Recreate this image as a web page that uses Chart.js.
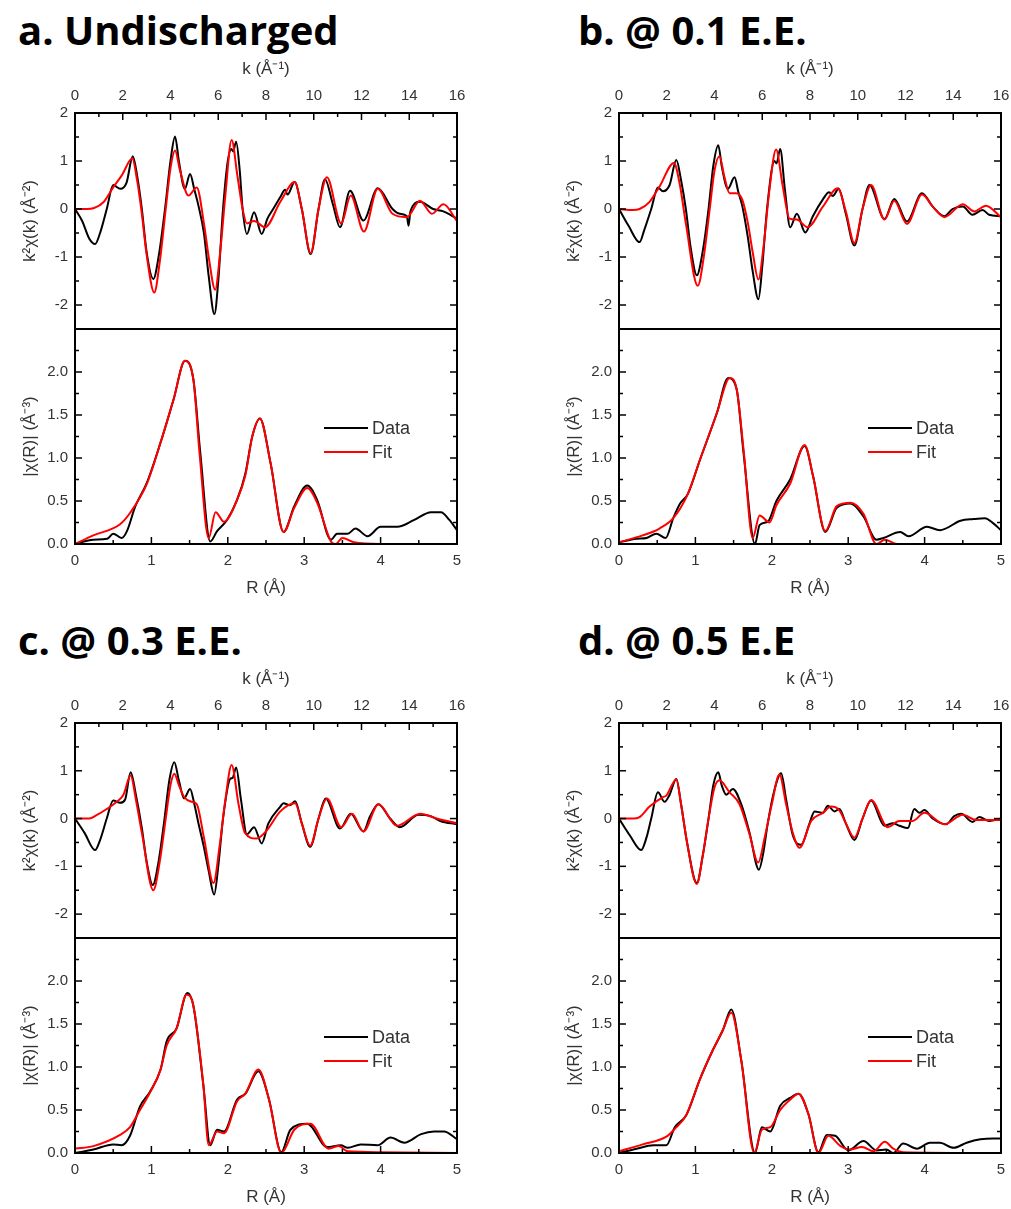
<!DOCTYPE html>
<html>
<head>
<meta charset="utf-8">
<script src="https://cdn.jsdelivr.net/npm/chart.js@4.4.1/dist/chart.umd.min.js"></script>
<style>
html, body { margin: 0; padding: 0; background: #fff; overflow: hidden; }
body { width: 1011px; height: 1209px; position: relative; }
.ttl { position: absolute; font: 700 40px "Open Sans", sans-serif; color: #000; line-height: 1; white-space: nowrap; }
canvas { position: absolute; }
</style>
</head>
<body>
<div class="ttl" style="left:18px;top:10px">a. Undischarged</div>
<div class="ttl" style="left:578px;top:10px">b. @ 0.1 E.E.</div>
<div class="ttl" style="left:18px;top:620px">c. @ 0.3 E.E.</div>
<div class="ttl" style="left:578px;top:620px">d. @ 0.5 E.E</div>
<script>
// axis ticks
const kTicks = [0, 2, 4, 6, 8, 10, 12, 14, 16];
const kMinor = [1, 3, 5, 7, 9, 11, 13, 15];
const chiKTicks = [2, 1, 0, -1, -2];
const chiKMinor = [1.5, 0.5, -0.5, -1.5];
const rTicks = [0, 1, 2, 3, 4, 5];
const rMinor = [0.5, 1.5, 2.5, 3.5, 4.5];
const chiRTicks = [0, 0.5, 1, 1.5, 2];
const chiRMinor = [0.25, 0.75, 1.25, 1.75, 2.25];

// k-space, [k, k^2 chi(k)]
const aKData = [[0,0],[0.3,-0.25],[0.6,-0.62],[0.84,-0.73],[1.05,-0.5],[1.33,0],[1.6,0.5],[1.9,0.42],[2.16,0.55],[2.42,1.1],[2.6,0.7],[2.8,0],[3.0,-0.9],[3.28,-1.46],[3.5,-1.0],[3.77,0],[4.0,1.0],[4.19,1.51],[4.35,1.0],[4.6,0.42],[4.82,0.73],[5.0,0.4],[5.17,0.07],[5.4,-0.5],[5.6,-1.4],[5.84,-2.19],[6.0,-1.5],[6.2,0],[6.4,1.0],[6.55,1.25],[6.62,1.2],[6.75,1.4],[6.9,0.8],[7.02,0],[7.2,-0.52],[7.5,-0.07],[7.82,-0.52],[8.06,-0.2],[8.3,0],[8.6,0.25],[8.8,0.4],[8.9,0.3],[9.2,0.56],[9.5,0],[9.87,-0.94],[10.2,0],[10.47,0.62],[10.8,0.1],[11.1,-0.38],[11.52,0.38],[12.08,-0.24],[12.68,0.43],[13.3,0],[13.6,-0.1],[13.9,-0.15],[13.97,-0.35],[14.05,-0.05],[14.45,0.15],[15.0,0.0],[15.43,-0.05],[16,-0.2]];
const aKFit = [[0,0],[0.5,0],[0.8,0.02],[1.19,0.14],[1.6,0.45],[1.96,0.7],[2.4,1.05],[2.6,0.6],[2.8,-0.1],[3.0,-0.95],[3.32,-1.74],[3.55,-1.1],[3.8,0],[4.0,0.85],[4.19,1.22],[4.4,0.8],[4.75,0.28],[5.1,0.45],[5.4,-0.3],[5.6,-1.0],[5.87,-1.68],[6.1,-0.8],[6.3,0.3],[6.56,1.44],[6.8,0.7],[7.02,0],[7.2,-0.3],[7.5,-0.25],[7.96,-0.38],[8.6,0.15],[9.2,0.56],[9.5,0],[9.87,-0.92],[10.2,0],[10.55,0.66],[11.15,-0.3],[11.55,0.28],[12.1,-0.47],[12.68,0.42],[13.3,-0.1],[13.9,-0.17],[14.45,0.17],[14.95,-0.1],[15.43,0.1],[16,-0.25]];
const bKData = [[0,0],[0.4,-0.35],[0.86,-0.69],[1.05,-0.45],[1.35,0],[1.63,0.45],[1.84,0.37],[2.12,0.5],[2.4,1.02],[2.6,0.6],[2.8,0],[3.0,-0.8],[3.26,-1.38],[3.5,-0.9],[3.75,0],[3.95,0.9],[4.16,1.33],[4.3,0.9],[4.56,0.42],[4.84,0.66],[5.0,0.35],[5.16,0.07],[5.4,-0.6],[5.6,-1.3],[5.84,-1.88],[6.0,-1.2],[6.2,0],[6.51,1.0],[6.6,0.95],[6.75,1.25],[6.95,0.4],[7.17,-0.38],[7.45,-0.1],[7.8,-0.49],[8.12,-0.15],[8.54,0.2],[8.8,0.35],[8.95,0.27],[9.2,0.42],[9.5,-0.1],[9.86,-0.76],[10.2,0],[10.49,0.5],[11.12,-0.21],[11.53,0.21],[12.06,-0.26],[12.69,0.33],[13.14,0.05],[13.63,-0.15],[13.97,0],[14.4,0.05],[14.8,-0.12],[15.23,-0.02],[15.5,-0.12],[16,-0.15]];
const bKFit = [[0,0],[0.58,-0.02],[0.86,0],[1.28,0.15],[1.7,0.47],[2.3,0.96],[2.55,0.5],[2.8,-0.3],[3.3,-1.6],[3.55,-1.0],[3.8,0],[4.0,0.8],[4.21,1.1],[4.4,0.7],[4.63,0.33],[4.9,0.33],[5.16,0.2],[5.4,-0.3],[5.6,-0.9],[5.84,-1.47],[6.05,-0.8],[6.3,0.4],[6.58,1.24],[6.85,0.5],[7.14,-0.2],[7.45,-0.22],[7.9,-0.38],[8.54,0.05],[9.16,0.43],[9.5,-0.05],[9.86,-0.71],[10.2,0],[10.56,0.5],[11.12,-0.22],[11.53,0.17],[12.06,-0.31],[12.69,0.3],[13.14,0.05],[13.63,-0.17],[14.4,0.1],[14.88,-0.05],[15.37,0.07],[16,-0.17]];
const cKData = [[0,0],[0.4,-0.3],[0.84,-0.66],[1.05,-0.45],[1.33,0],[1.6,0.38],[1.89,0.33],[2.1,0.4],[2.33,0.97],[2.55,0.5],[2.8,-0.2],[3.0,-0.9],[3.26,-1.39],[3.5,-0.9],[3.75,0],[3.95,0.8],[4.16,1.18],[4.35,0.8],[4.57,0.42],[4.82,0.62],[5.0,0.3],[5.17,-0.1],[5.4,-0.6],[5.6,-1.1],[5.83,-1.59],[6.0,-1.0],[6.2,0],[6.5,0.83],[6.6,0.85],[6.75,1.07],[6.95,0.4],[7.2,-0.33],[7.5,-0.18],[7.82,-0.52],[8.1,-0.1],[8.6,0.25],[8.73,0.32],[9.0,0.28],[9.22,0.36],[9.5,-0.1],[9.85,-0.59],[10.2,0],[10.5,0.42],[11.1,-0.21],[11.55,0.1],[12.08,-0.27],[12.36,0.05],[12.71,0.3],[13.2,0],[13.6,-0.18],[14.39,0.08],[14.9,0.05],[15.3,-0.05],[16,-0.12]];
const cKFit = [[0,0],[0.6,0],[0.9,0.07],[1.33,0.2],[1.75,0.35],[2.03,0.5],[2.33,0.9],[2.55,0.4],[2.8,-0.3],[3.28,-1.5],[3.55,-0.9],[3.8,0],[4.0,0.7],[4.16,0.94],[4.35,0.7],[4.57,0.45],[4.89,0.35],[5.1,0.3],[5.4,-0.4],[5.8,-1.35],[6.05,-0.6],[6.3,0.4],[6.56,1.12],[6.85,0.3],[7.12,-0.3],[7.6,-0.42],[8.03,-0.25],[8.6,0.15],[9.22,0.32],[9.5,-0.1],[9.85,-0.57],[10.2,0],[10.55,0.42],[11.15,-0.18],[11.6,0.1],[12.08,-0.27],[12.71,0.3],[13.48,-0.15],[14.46,0.1],[15.15,0],[16,-0.1]];
const dKData = [[0,0],[0.45,-0.35],[0.93,-0.66],[1.15,-0.4],[1.35,0],[1.63,0.55],[1.91,0.35],[2.12,0.5],[2.4,0.83],[2.6,0.3],[2.85,-0.5],[3.26,-1.35],[3.5,-0.8],[3.75,0],[3.95,0.7],[4.16,0.97],[4.3,0.7],[4.49,0.5],[4.77,0.62],[5.12,0.3],[5.47,-0.3],[5.86,-1.07],[6.05,-0.7],[6.23,-0.1],[6.51,0.6],[6.79,0.95],[7.0,0.4],[7.28,-0.35],[7.63,-0.55],[7.98,-0.1],[8.19,0.15],[8.54,0.12],[8.75,0.27],[9.02,0.15],[9.23,0.2],[9.5,-0.1],[9.86,-0.45],[10.2,0],[10.56,0.38],[11.12,-0.15],[11.47,-0.1],[11.74,-0.15],[12.1,-0.2],[12.37,0.2],[12.58,0.12],[12.79,0.18],[13.14,0],[13.7,-0.12],[14.04,0.05],[14.33,0.1],[14.81,-0.07],[15.09,0.03],[15.51,-0.05],[16,0]];
const dKFit = [[0,0],[0.6,0],[0.86,0.03],[1.28,0.25],[1.84,0.45],[1.98,0.48],[2.4,0.82],[2.6,0.3],[2.85,-0.5],[3.26,-1.37],[3.5,-0.8],[3.75,0],[4.0,0.65],[4.21,0.8],[4.63,0.55],[5.05,0.3],[5.45,-0.3],[5.83,-0.92],[6.1,-0.4],[6.4,0.3],[6.72,0.92],[7.0,0.3],[7.28,-0.3],[7.56,-0.61],[8.05,-0.05],[8.54,0.12],[8.89,0.25],[9.23,0.17],[9.5,-0.1],[9.86,-0.4],[10.2,0],[10.56,0.39],[11.26,-0.18],[11.74,-0.05],[12.3,-0.05],[12.79,0.12],[13.63,-0.12],[14.4,0.08],[14.95,-0.03],[16,-0.03]];

// R-space, [R, |chi(R)|]
const aRData = [[0,0],[0.24,0.05],[0.42,0.06],[0.5,0.12],[0.61,0.07],[0.68,0.15],[0.79,0.44],[0.94,0.71],[1.12,1.18],[1.29,1.68],[1.44,2.13],[1.55,1.91],[1.64,1.06],[1.77,0.03],[1.86,0.15],[1.99,0.28],[2.12,0.51],[2.23,0.82],[2.32,1.25],[2.42,1.46],[2.56,0.94],[2.73,0.14],[2.87,0.44],[3.04,0.68],[3.17,0.51],[3.35,0.05],[3.43,0.12],[3.57,0.12],[3.67,0.18],[3.83,0.09],[4.0,0.2],[4.22,0.2],[4.44,0.28],[4.66,0.37],[4.79,0.37],[4.9,0.28],[5,0.16]];
const aRFit = [[0,0],[0.24,0.1],[0.59,0.23],[0.72,0.36],[0.94,0.7],[1.12,1.18],[1.29,1.68],[1.44,2.13],[1.55,1.91],[1.63,1.06],[1.75,0.07],[1.84,0.37],[1.95,0.26],[2.12,0.51],[2.23,0.8],[2.32,1.25],[2.42,1.46],[2.56,0.94],[2.73,0.14],[2.87,0.42],[3.04,0.65],[3.17,0.48],[3.35,0.03],[3.41,0],[3.5,0.07],[3.65,0.02],[4.0,0],[5,0]];
const bRData = [[0,0.02],[0.23,0.06],[0.36,0.07],[0.49,0.12],[0.61,0.07],[0.71,0.3],[0.8,0.47],[0.9,0.58],[1.06,0.98],[1.28,1.52],[1.43,1.93],[1.54,1.8],[1.63,1.06],[1.78,0],[1.84,0.22],[1.95,0.26],[2.06,0.5],[2.24,0.75],[2.43,1.14],[2.54,0.79],[2.7,0.14],[2.85,0.42],[3.03,0.47],[3.2,0.32],[3.37,0.05],[3.46,0.07],[3.68,0.14],[3.79,0.09],[4.03,0.2],[4.2,0.16],[4.47,0.27],[4.64,0.29],[4.79,0.3],[4.9,0.24],[5,0.16]];
const bRFit = [[0,0.02],[0.31,0.1],[0.53,0.18],[0.71,0.3],[0.9,0.58],[1.06,0.98],[1.28,1.52],[1.45,1.93],[1.54,1.8],[1.63,1.1],[1.75,0.07],[1.84,0.33],[1.97,0.25],[2.06,0.45],[2.24,0.7],[2.43,1.15],[2.54,0.79],[2.7,0.15],[2.85,0.44],[3.03,0.48],[3.2,0.35],[3.37,0],[3.48,0.05],[3.64,0],[5,0]];
const cRData = [[0,0],[0.24,0.04],[0.5,0.1],[0.61,0.09],[0.72,0.2],[0.85,0.54],[0.98,0.71],[1.12,0.97],[1.2,1.3],[1.33,1.45],[1.47,1.86],[1.55,1.71],[1.68,0.79],[1.77,0.09],[1.86,0.27],[1.95,0.25],[2.12,0.62],[2.23,0.69],[2.4,0.95],[2.54,0.62],[2.7,0.01],[2.82,0.27],[3.04,0.34],[3.3,0.07],[3.48,0.09],[3.57,0.06],[3.74,0.1],[3.96,0.09],[4.13,0.18],[4.31,0.12],[4.53,0.22],[4.7,0.25],[4.83,0.25],[5,0.16]];
const cRFit = [[0,0.05],[0.24,0.08],[0.59,0.21],[0.72,0.3],[0.85,0.5],[0.98,0.7],[1.12,0.97],[1.2,1.25],[1.33,1.45],[1.46,1.84],[1.55,1.71],[1.68,0.79],[1.75,0.09],[1.86,0.25],[1.95,0.23],[2.12,0.6],[2.23,0.69],[2.4,0.97],[2.54,0.62],[2.7,0],[2.87,0.27],[3.08,0.34],[3.32,0.05],[3.45,0.08],[3.57,0.02],[4.0,0.01],[5,0]];
const dRData = [[0,0],[0.23,0.05],[0.45,0.09],[0.62,0.09],[0.73,0.3],[0.88,0.44],[1.06,0.86],[1.23,1.2],[1.36,1.43],[1.47,1.67],[1.6,1.08],[1.78,0],[1.87,0.3],[1.98,0.25],[2.11,0.55],[2.24,0.64],[2.35,0.69],[2.48,0.45],[2.61,0.01],[2.72,0.21],[2.83,0.2],[3.0,0.03],[3.2,0.14],[3.37,0.03],[3.5,0.04],[3.59,0],[3.72,0.11],[3.9,0.05],[4.07,0.12],[4.2,0.12],[4.38,0.06],[4.55,0.12],[4.73,0.16],[4.9,0.17],[5,0.17]];
const dRFit = [[0,0.02],[0.31,0.1],[0.62,0.19],[0.73,0.28],[0.88,0.44],[1.06,0.86],[1.23,1.2],[1.36,1.43],[1.47,1.63],[1.6,1.08],[1.77,0],[1.87,0.27],[1.98,0.3],[2.11,0.5],[2.24,0.62],[2.35,0.69],[2.48,0.45],[2.61,0],[2.74,0.2],[2.9,0.08],[3.02,0.04],[3.18,0.07],[3.33,0.02],[3.48,0.13],[3.59,0.05],[3.72,0.01],[5,0]];

const TICK_FONT = { family: '"Liberation Sans", Arial, sans-serif', size: 15 };
const TITLE_FONT = { family: '"Liberation Sans", Arial, sans-serif', size: 17 };
const TEXT_COLOR = '#333';

// frame + inward ticks, Origin style
const framePlugin = {
  id: 'frame',
  afterDatasetsDraw(chart, args, o) {
    const { ctx, chartArea: a, scales } = chart;
    const xs = scales.x, ys = scales.y;
    ctx.save();
    ctx.strokeStyle = '#000';
    const line = (x1, y1, x2, y2) => { ctx.beginPath(); ctx.moveTo(x1, y1); ctx.lineTo(x2, y2); ctx.stroke(); };
    ctx.lineWidth = 1.5;
    const xEdgeY = o.xEdge === 'top' ? a.top : a.bottom;
    const dir = o.xEdge === 'top' ? 1 : -1;
    o.xMajor.forEach(v => { const p = xs.getPixelForValue(v); line(p, xEdgeY, p, xEdgeY + dir * 7); });
    o.xMinor.forEach(v => { const p = xs.getPixelForValue(v); line(p, xEdgeY, p, xEdgeY + dir * 4); });
    o.yMajor.forEach(v => {
      const p = ys.getPixelForValue(v);
      line(a.left, p, a.left + 7, p); line(a.right, p, a.right - 7, p);
    });
    o.yMinor.forEach(v => {
      const p = ys.getPixelForValue(v);
      line(a.left, p, a.left + 4, p); line(a.right, p, a.right - 4, p);
    });
    ctx.lineWidth = 2;
    ctx.strokeRect(a.left, a.top, a.right - a.left, a.bottom - a.top);
    ctx.restore();
  }
};

// legend inside the R plot
const legendPlugin = {
  id: 'inlegend',
  afterDraw(chart, args, o) {
    if (!o.show) return;
    const { ctx, chartArea: a } = chart;
    ctx.save();
    ctx.font = '18px "Liberation Sans", Arial, sans-serif';
    ctx.textBaseline = 'middle';
    ['Data', 'Fit'].forEach((name, i) => {
      const ds = chart.data.datasets.find(d => d.label === name);
      const y = a.top + 99 + i * 24;
      ctx.strokeStyle = ds.borderColor;
      ctx.lineWidth = 2;
      ctx.beginPath(); ctx.moveTo(a.left + 249, y); ctx.lineTo(a.left + 293, y); ctx.stroke();
      ctx.fillStyle = TEXT_COLOR;
      ctx.fillText(name, a.left + 297, y + 1);
    });
    ctx.restore();
  }
};

function toPts(arr) { return arr.map(p => ({ x: p[0], y: p[1] })); }

function ds(label, arr, color, order) {
  return {
    label: label, data: toPts(arr), borderColor: color, backgroundColor: color,
    borderWidth: 2, pointRadius: 0, cubicInterpolationMode: 'monotone', order: order
  };
}

function makeChart(left, top, width, height, cfg) {
  const cv = document.createElement('canvas');
  cv.width = width; cv.height = height;
  cv.style.left = left + 'px'; cv.style.top = top + 'px';
  cv.style.width = width + 'px'; cv.style.height = height + 'px';
  document.body.appendChild(cv);
  new Chart(cv.getContext('2d'), {
    type: 'line',
    data: { datasets: [ds('Data', cfg.data, '#000000', 1), ds('Fit', cfg.fit, '#ff0000', 0)] },
    options: {
      responsive: false, animation: false, devicePixelRatio: 1,
      layout: { padding: cfg.padding },
      plugins: {
        legend: { display: false }, tooltip: { enabled: false },
        frame: { xEdge: cfg.xPos, xMajor: cfg.xTicks, xMinor: cfg.xMinor, yMajor: cfg.yTicks, yMinor: cfg.yMinor },
        inlegend: { show: cfg.legend }
      },
      scales: {
        x: {
          type: 'linear', position: cfg.xPos, min: cfg.xMin, max: cfg.xMax,
          grid: { display: false, drawTicks: false }, border: { display: false },
          afterBuildTicks: s => { s.ticks = cfg.xTicks.map(v => ({ value: v })); },
          afterFit: s => { s.height = cfg.xH; },
          ticks: { font: TICK_FONT, color: TEXT_COLOR, padding: 8, maxRotation: 0, autoSkip: false,
                   callback: v => String(v) },
          title: { display: true, text: cfg.xTitle, font: TITLE_FONT, color: TEXT_COLOR,
                   padding: cfg.xPos === 'top' ? { top: 8 } : { bottom: 7 } }
        },
        y: {
          type: 'linear', min: cfg.yMin, max: cfg.yMax,
          grid: { display: false, drawTicks: false }, border: { display: false },
          afterBuildTicks: s => { s.ticks = cfg.yTicks.map(v => ({ value: v })); },
          afterFit: s => { s.width = 75; },
          ticks: { font: TICK_FONT, color: TEXT_COLOR, padding: 7, autoSkip: false,
                   callback: v => cfg.yFmt(v) },
          title: { display: true, text: cfg.yTitle, font: TITLE_FONT, color: TEXT_COLOR, padding: { top: 20 } }
        }
      }
    },
    plugins: [framePlugin, legendPlugin]
  });
}

const cols = [75, 619];
const rows = [{ top: 113, sep: 329, bot: 544 }, { top: 723, sep: 938, bot: 1153 }];
const panels = [
  { col: 0, row: 0, k: [aKData, aKFit], r: [aRData, aRFit] },
  { col: 1, row: 0, k: [bKData, bKFit], r: [bRData, bRFit] },
  { col: 0, row: 1, k: [cKData, cKFit], r: [cRData, cRFit] },
  { col: 1, row: 1, k: [dKData, dKFit], r: [dRData, dRFit] }
];
const PW = 382;
const PAD = 20; // room for edge label overhang so the plot box stays fixed

panels.forEach(p => {
  const pl = cols[p.col], rw = rows[p.row];
  const left = pl - 75, width = 75 + PW + PAD;
  makeChart(left, rw.top - 62, width, 62 + (rw.sep - rw.top) + PAD, {
    data: p.k[0], fit: p.k[1], legend: false,
    padding: { top: 0, right: PAD, bottom: PAD, left: 0 },
    xPos: 'top', xH: 62, xMin: 0, xMax: 16, xTicks: kTicks, xMinor: kMinor, xTitle: 'k (Å⁻¹)',
    yMin: -2.5, yMax: 2, yTicks: chiKTicks, yMinor: chiKMinor, yTitle: 'k²χ(k) (Å⁻²)',
    yFmt: v => String(v)
  });
  makeChart(left, rw.sep - PAD, width, PAD + (rw.bot - rw.sep) + 62, {
    data: p.r[0], fit: p.r[1], legend: true,
    padding: { top: PAD, right: PAD, bottom: 0, left: 0 },
    xPos: 'bottom', xH: 62, xMin: 0, xMax: 5, xTicks: rTicks, xMinor: rMinor, xTitle: 'R (Å)',
    yMin: 0, yMax: 2.5, yTicks: chiRTicks, yMinor: chiRMinor, yTitle: '|χ(R)| (Å⁻³)',
    yFmt: v => v.toFixed(1)
  });
});
</script>
</body>
</html>
